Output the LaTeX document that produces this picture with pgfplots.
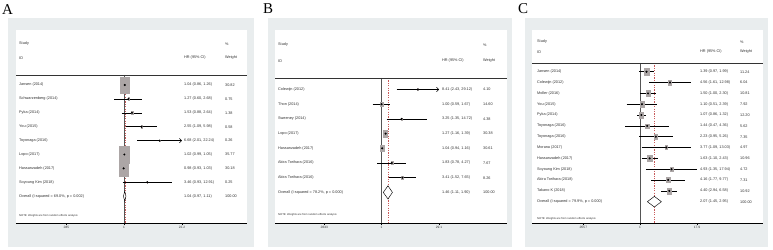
\documentclass[border=0pt]{standalone}
\usepackage{pgfplots}
\usepackage{pgfplotstable}
\pgfplotsset{compat=1.18}
\usetikzlibrary{arrows.meta}
\usepackage{fontspec}
\setmainfont{Liberation Sans}
\newfontfamily\letfont{Liberation Serif}
\definecolor{bgout}{RGB}{233,237,238}
\definecolor{boxg}{RGB}{172,166,166}
\definecolor{nullc}{RGB}{85,85,85}
\definecolor{refred}{RGB}{200,90,90}
\definecolor{txt}{RGB}{50,50,50}
\newcommand\tf{\fontsize{3.8}{4.5}\selectfont}
\newcommand\nf{\fontsize{2.7}{3.2}\selectfont}
\newcommand\kf{\fontsize{3.2}{3.8}\selectfont}
\newcommand\T[3]{\node[anchor=west,inner sep=0pt,font=\tf,text=txt] at (#1pt,#2pt) {#3};}
\newcommand\R[7]{\T{#1}{#4}{#5}\T{#2}{#4}{#6}\T{#3}{#4}{#7}}
\newcommand\ci[3]{\addplot[black,line width=0.5pt] coordinates {(#1,#3) (#2,#3)};}
\newcommand\boxes[3]{\addplot[scatter, only marks, mark=square*,
  scatter/use mapped color={draw=boxg,fill=boxg},
  visualization depends on={#1*sqrt(\thisrow{w}) \as \ms},
  scatter/@pre marker code/.append style={/tikz/mark size=\ms},
  mark options={yscale=#2}] table[x=hr,y=y] {#3};}
\pgfplotsset{fp/.style={scale only axis, anchor=south west,
  ymin=26, ymax=219, height=193pt,
  axis x line*=bottom, axis y line=none, ytick=\empty,
  xtick align=outside, major tick length=2.5pt, xminorticks=false,
  tick style={black,line width=0.4pt},
  axis line style={-,black,line width=0.5pt},
  axis background/.style={fill=white}, clip=false,
  xticklabel style={font=\kf, text=txt, inner sep=1pt}}}

\pgfplotstableread{
hr lo hi w y
1.04 0.86 1.26 30.82 164
1.27 0.60 2.68 0.75 150.1
1.53 0.88 2.64 1.38 136.2
2.55 1.09 5.98 0.58 122.3
6.68 2.01 22.24 0.26 108.4
1.02 0.99 1.05 35.77 94.5
0.98 0.93 1.03 30.18 80.6
3.46 0.93 12.91 0.25 66.7
}\tabA
\pgfplotstableread{
hr lo hi w y
8.41 2.43 29.12 4.10 159.5
1.00 0.59 1.67 14.60 144.8
3.25 1.35 14.72 4.38 130.1
1.27 1.16 1.39 30.38 115.4
1.04 0.94 1.16 30.61 100.7
1.83 0.78 4.27 7.67 86
3.41 1.52 7.65 8.26 71.3
}\tabB
\pgfplotstableread{
hr lo hi w y
1.39 0.97 1.99 11.24 177.3
4.56 1.61 12.98 6.04 166.5
1.50 1.00 2.30 10.81 155.6
1.10 0.51 2.39 7.92 144.8
1.07 0.86 1.32 12.20 134.0
1.44 0.47 4.36 5.62 123.1
2.23 0.95 5.26 7.35 112.3
3.77 1.09 13.03 4.97 101.5
1.63 1.10 2.43 10.96 90.6
4.93 1.35 17.94 4.72 79.8
4.16 1.77 9.77 7.31 69.0
4.40 2.94 6.58 10.92 58.1
}\tabC

\begin{document}
\begin{tikzpicture}
\useasboundingbox (0,0) rectangle (773pt,249pt);
\fill[bgout] (8pt,2pt) rectangle (254pt,231pt);
\fill[bgout] (268pt,2pt) rectangle (512pt,231pt);
\fill[bgout] (525pt,2pt) rectangle (768pt,231pt);
\node[anchor=west,inner sep=0pt,font=\letfont\fontsize{15}{15}\selectfont] at (2pt,239pt) {A};
\node[anchor=west,inner sep=0pt,font=\letfont\fontsize{15}{15}\selectfont] at (263pt,240pt) {B};
\node[anchor=west,inner sep=0pt,font=\letfont\fontsize{15}{15}\selectfont] at (518pt,240pt) {C};

% ---------------- Panel A
\begin{axis}[xmode=log, fp, at={(16pt,26pt)}, width=231pt, xmin=0.00310, xmax=719,
  xtick={0.045,1,22.2}, xticklabels={.045,1,22.2}]
\addplot[nullc,line width=0.8pt] coordinates {(1,174) (1,26)};
\addplot[refred,line width=0.35pt,dash pattern=on 1.2pt off 1.2pt] coordinates {(1.04,174) (1.04,26)};
\ci{0.86}{1.26}{164}
\ci{0.60}{2.68}{150.1}
\ci{0.88}{2.64}{136.2}
\ci{1.09}{5.98}{122.3}
\addplot[black,line width=0.5pt,-{Straight Barb[length=2.2pt,width=4.5pt]}] coordinates {(2.01,108.4) (22.2,108.4)};
\ci{0.99}{1.05}{94.5}
\ci{0.93}{1.03}{80.6}
\ci{0.93}{12.91}{66.7}
\boxes{0.82}{1.75}{\tabA}
\addplot[only marks, mark=*, mark size=0.8pt, black] table[x=hr,y=y] {\tabA};
\addplot[black, fill=white, line width=0.45pt] coordinates {(0.97,52.8) (1.04,57.8) (1.11,52.8) (1.04,47.8) (0.97,52.8)};
\end{axis}

% ---------------- Panel B
\begin{axis}[xmode=log, fp, at={(275pt,26pt)}, width=232pt, xmin=0.00194, xmax=1567,
  xtick={0.0343,1,29.1}, xticklabels={.0343,1,29.1}]
\addplot[nullc,line width=0.9pt] coordinates {(1,171) (1,26)};
\addplot[refred,line width=0.35pt,dash pattern=on 1.2pt off 1.2pt] coordinates {(1.46,171) (1.46,26)};
\addplot[black,line width=0.5pt,-{Straight Barb[length=2.2pt,width=4.5pt]}] coordinates {(2.43,159.5) (29.1,159.5)};
\ci{0.59}{1.67}{144.8}
\ci{1.35}{14.72}{130.1}
\ci{1.16}{1.39}{115.4}
\ci{0.94}{1.16}{100.7}
\ci{0.78}{4.27}{86}
\ci{1.52}{7.65}{71.3}
\boxes{0.38}{1.5}{\tabB}
\addplot[only marks, mark=*, mark size=0.8pt, black] table[x=hr,y=y] {\tabB};
\addplot[black, fill=white, line width=0.45pt] coordinates {(1.11,56.6) (1.46,63.2) (1.90,56.6) (1.46,50.0) (1.11,56.6)};
\end{axis}

% ---------------- Panel C
\begin{axis}[xmode=log, fp, at={(532pt,26pt)}, width=231pt, xmin=0.00420, xmax=508,
  xtick={0.0557,1,17.9}, xticklabels={.0557,1,17.9}]
\addplot[nullc,line width=0.8pt] coordinates {(1,186) (1,26)};
\addplot[refred,line width=0.35pt,dash pattern=on 1.2pt off 1.2pt] coordinates {(2.07,186) (2.07,26)};
\ci{0.97}{1.99}{177.3}
\ci{1.61}{12.98}{166.5}
\ci{1.00}{2.30}{155.6}
\ci{0.51}{2.39}{144.8}
\ci{0.86}{1.32}{134.0}
\ci{0.47}{4.36}{123.1}
\ci{0.95}{5.26}{112.3}
\ci{1.09}{13.03}{101.5}
\ci{1.10}{2.43}{90.6}
\ci{1.35}{17.94}{79.8}
\ci{1.77}{9.77}{69.0}
\ci{2.94}{6.58}{58.1}
\boxes{0.65}{1.4}{\tabC}
\addplot[only marks, mark=*, mark size=0.8pt, black] table[x=hr,y=y] {\tabC};
\addplot[black, fill=white, line width=0.45pt] coordinates {(1.45,47.3) (2.07,52.6) (2.95,47.3) (2.07,42.0) (1.45,47.3)};
\end{axis}

% header lines
\draw[line width=0.4pt,black!80] (16pt,174pt) -- (247pt,174pt);
\draw[line width=0.4pt,black!80] (275pt,171pt) -- (507pt,171pt);
\draw[line width=0.4pt,black!80] (532pt,186pt) -- (763pt,186pt);

% ---------------- Text A
\T{19}{205}{Study} \T{19}{191}{ID} \T{184}{191}{HR (95\% CI)} \T{225}{205}{\%} \T{225}{191}{Weight}
\R{19}{184}{225}{164}{Jansen (2014)}{1.04 (0.86, 1.26)}{30.82}
\R{19}{184}{225}{150.1}{Schwarzenberg (2014)}{1.27 (0.60, 2.68)}{0.75}
\R{19}{184}{225}{136.2}{Pyka (2014)}{1.53 (0.88, 2.64)}{1.38}
\R{19}{184}{225}{122.3}{You (2015)}{2.55 (1.09, 5.98)}{0.58}
\R{19}{184}{225}{108.4}{Toyonaga (2016)}{6.68 (2.01, 22.24)}{0.26}
\R{19}{184}{225}{94.5}{Lopo (2017)}{1.02 (0.99, 1.05)}{35.77}
\R{19}{184}{225}{80.6}{Hassanzadeh (2017)}{0.98 (0.93, 1.03)}{30.18}
\R{19}{184}{225}{66.7}{Soyoung Kim (2018)}{3.46 (0.93, 12.91)}{0.25}
\R{19}{184}{225}{52.8}{Overall  (I-squared = 69.0\%, p = 0.002)}{1.04 (0.97, 1.11)}{100.00}
\node[anchor=west,inner sep=0pt,font=\nf,text=txt] at (19pt,33pt) {NOTE: Weights are from random effects analysis};

% ---------------- Text B
\T{278}{204}{Study} \T{278}{188}{ID} \T{442}{188}{HR (95\% CI)} \T{483}{204}{\%} \T{483}{188}{Weight}
\R{278}{442}{483}{159.5}{Colewijn (2012)}{8.41 (2.43, 29.12)}{4.10}
\R{278}{442}{483}{144.8}{Thon (2014)}{1.00 (0.59, 1.67)}{14.60}
\R{278}{442}{483}{130.1}{Sweeney (2014)}{3.25 (1.35, 14.72)}{4.38}
\R{278}{442}{483}{115.4}{Lopo (2017)}{1.27 (1.16, 1.39)}{30.38}
\R{278}{442}{483}{100.7}{Hassanzadeh (2017)}{1.04 (0.94, 1.16)}{30.61}
\R{278}{442}{483}{86}{Akira Torihara (2016)}{1.83 (0.78, 4.27)}{7.67}
\R{278}{442}{483}{71.3}{Akira Torihara (2016)}{3.41 (1.52, 7.65)}{8.26}
\R{278}{442}{483}{56.6}{Overall  (I-squared = 78.2\%, p = 0.000)}{1.46 (1.11, 1.90)}{100.00}
\node[anchor=west,inner sep=0pt,font=\nf,text=txt] at (278pt,34pt) {NOTE: Weights are from random effects analysis};

% ---------------- Text C
\T{537}{207}{Study} \T{537}{197}{ID} \T{700}{197}{HR (95\% CI)} \T{740}{207}{\%} \T{740}{197}{Weight}
\R{537}{700}{740}{177.3}{Jansen (2014)}{1.39 (0.97, 1.99)}{11.24}
\R{537}{700}{740}{166.5}{Colewijn (2012)}{4.56 (1.61, 12.98)}{6.04}
\R{537}{700}{740}{155.6}{Moller (2016)}{1.50 (1.00, 2.30)}{10.81}
\R{537}{700}{740}{144.8}{You (2015)}{1.10 (0.51, 2.39)}{7.92}
\R{537}{700}{740}{134.0}{Pyka (2014)}{1.07 (0.86, 1.32)}{12.20}
\R{537}{700}{740}{123.1}{Toyonaga (2016)}{1.44 (0.47, 4.36)}{5.62}
\R{537}{700}{740}{112.3}{Toyonaga (2016)}{2.23 (0.95, 5.26)}{7.35}
\R{537}{700}{740}{101.5}{Morana (2017)}{3.77 (1.09, 13.03)}{4.97}
\R{537}{700}{740}{90.6}{Hassanzadeh (2017)}{1.63 (1.10, 2.43)}{10.96}
\R{537}{700}{740}{79.8}{Soyoung Kim (2018)}{4.93 (1.35, 17.94)}{4.72}
\R{537}{700}{740}{69.0}{Akira Torihara (2018)}{4.16 (1.77, 9.77)}{7.31}
\R{537}{700}{740}{58.1}{Takano K (2018)}{4.40 (2.94, 6.58)}{10.92}
\R{537}{700}{740}{47.3}{Overall  (I-squared = 79.9\%, p = 0.000)}{2.07 (1.45, 2.95)}{100.00}
\node[anchor=west,inner sep=0pt,font=\nf,text=txt] at (537pt,30pt) {NOTE: Weights are from random effects analysis};
\end{tikzpicture}
\end{document}
